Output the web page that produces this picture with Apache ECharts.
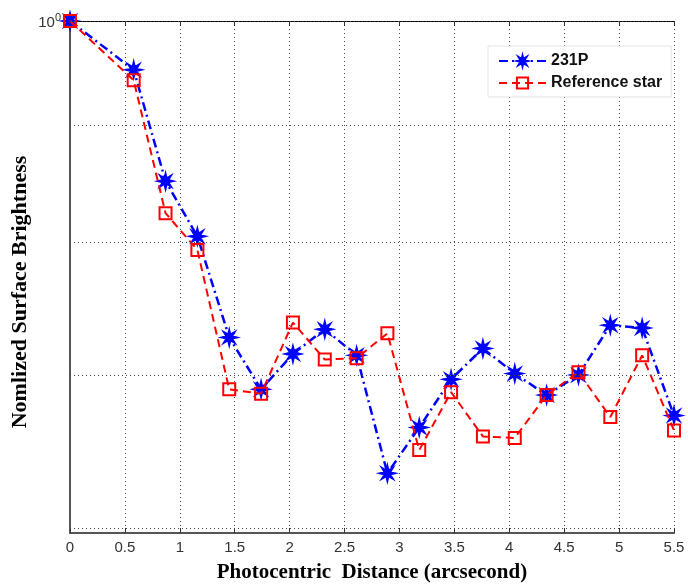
<!DOCTYPE html>
<html>
<head>
<meta charset="utf-8">
<script src="https://cdn.jsdelivr.net/npm/echarts@6/dist/echarts.min.js"></script>
<style>
html,body{margin:0;padding:0;background:#fff;}
#chart{width:688px;height:586px;}
</style>
</head>
<body>
<div id="chart"></div>
<script>
// Data
const xValues = [0, 0.58, 0.87, 1.16, 1.45, 1.74, 2.03, 2.32, 2.61, 2.89, 3.18, 3.47, 3.76, 4.05, 4.34, 4.63, 4.92, 5.21, 5.50];
const comet231P = [1.0, 0.952, 0.851, 0.805, 0.727, 0.690, 0.715, 0.733, 0.714, 0.634, 0.664, 0.697, 0.719, 0.701, 0.686, 0.700, 0.736, 0.734, 0.672];
const referenceStar = [1.0, 0.942, 0.824, 0.794, 0.690, 0.687, 0.738, 0.711, 0.712, 0.730, 0.649, 0.688, 0.658, 0.657, 0.686, 0.702, 0.671, 0.714, 0.662];
const seriesNames = ['231P', 'Reference star'];
const yGridValues = [0.6, 0.7, 0.8, 0.9, 1.0];
const xTitle = 'Photocentric  Distance (arcsecond)';
const yTitle = 'Nomlized Surface Brightness';

const toPairs = (ys) => ys.map((y, i) => [xValues[i], y]);

const starPath = 'path://M10,0L3.7,1.53L7.07,7.07L1.53,3.7L0,10L-1.53,3.7L-7.07,7.07L-3.7,1.53L-10,0L-3.7,-1.53L-7.07,-7.07L-1.53,-3.7L0,-10L1.53,-3.7L7.07,-7.07L3.7,-1.53Z';

const chart = echarts.init(document.getElementById('chart'), null, {renderer: 'canvas'});
const gridDot = [1, 3];

chart.setOption({
  animation: false,
  backgroundColor: '#fff',
  grid: {left: 70, right: 14, top: 21, bottom: 53, containLabel: false, outerBoundsMode: 'none'},
  legend: {
    orient: 'vertical',
    left: 488, top: 46,
    padding: [7, 9, 6, 10],
    itemWidth: 47, itemHeight: 14, itemGap: 6,
    backgroundColor: '#fff',
    borderColor: '#e4e4e4', borderWidth: 1,
    textStyle: {fontFamily: 'Liberation Sans, Arial, sans-serif', fontWeight: 'bold', fontSize: 16, color: '#111', lineHeight: 16},
    data: seriesNames
  },
  xAxis: [{
    type: 'value', min: 0, max: 5.5, interval: 0.5, position: 'bottom',
    axisLine: {show: true, lineStyle: {color: '#555', width: 2}},
    axisTick: {show: true, inside: true, length: 5, lineStyle: {color: '#333'}},
    axisLabel: {fontFamily: 'Liberation Sans, Arial, sans-serif', fontSize: 15, color: '#333', margin: 7},
    splitLine: {show: true, lineStyle: {color: '#444', type: gridDot, width: 1}},
    name: xTitle, nameLocation: 'middle', nameGap: 29, nameMoveOverlap: false,
    nameTextStyle: {fontFamily: 'Liberation Serif, Times New Roman, serif', fontWeight: 'bold', fontSize: 21, color: '#000'}
  }, {
    type: 'value', min: 0, max: 5.5, interval: 0.5, position: 'top',
    axisLine: {show: true, lineStyle: {color: '#000', width: 1}},
    axisTick: {show: true, inside: true, length: 5, lineStyle: {color: '#333'}},
    axisLabel: {show: false},
    splitLine: {show: false}
  }],
  yAxis: [{
    type: 'log', logBase: 10, min: 0.597, max: 1.0, position: 'left',
    axisLine: {show: true, lineStyle: {color: '#000', width: 1}},
    axisTick: {show: false},
    splitLine: {show: false},
    axisLabel: {
      margin: 9,
      formatter: (v) => Math.abs(v - 1) < 1e-6 ? '{a|10}{b|0}' : '',
      rich: {
        a: {fontFamily: 'Liberation Sans, Arial, sans-serif', fontSize: 15, color: '#333', lineHeight: 18, verticalAlign: 'bottom'},
        b: {fontFamily: 'Liberation Sans, Arial, sans-serif', fontSize: 11, color: '#333', lineHeight: 18, verticalAlign: 'top', padding: [0, 0, 6, 0]}
      }
    },
    name: yTitle, nameLocation: 'middle', nameGap: 39, nameMoveOverlap: false,
    nameTextStyle: {fontFamily: 'Liberation Serif, Times New Roman, serif', fontWeight: 'bold', fontSize: 22, color: '#000', padding: [0, 30, 0, 0]}
  }, {
    type: 'log', logBase: 10, min: 0.597, max: 1.0, position: 'right',
    axisLine: {show: true, lineStyle: {color: '#555', width: 2}},
    axisTick: {show: false}, axisLabel: {show: false}, splitLine: {show: false}
  }],
  series: [{
    name: seriesNames[0], type: 'line', xAxisIndex: 0, yAxisIndex: 0,
    data: toPairs(comet231P),
    symbol: starPath, symbolSize: 15, showSymbol: true,
    lineStyle: {color: '#0000ff', width: 2.5, type: [9, 4, 2, 4]},
    itemStyle: {color: '#0000ff', borderColor: '#0000ff', borderWidth: 2},
    z: 3,
    markLine: {
      silent: true, symbol: ['none', 'none'], label: {show: false}, animation: false,
      lineStyle: {color: '#444', type: gridDot, width: 1},
      data: yGridValues.map(v => ({yAxis: v}))
    }
  }, {
    name: seriesNames[1], type: 'line', xAxisIndex: 0, yAxisIndex: 0,
    data: toPairs(referenceStar),
    symbol: 'rect', symbolSize: 12, showSymbol: true,
    lineStyle: {color: '#ff0000', width: 2, type: [8, 5]},
    itemStyle: {color: 'rgba(255,255,255,0)', borderColor: '#ff0000', borderWidth: 2},
    z: 4
  }]
});
</script>
</body>
</html>
